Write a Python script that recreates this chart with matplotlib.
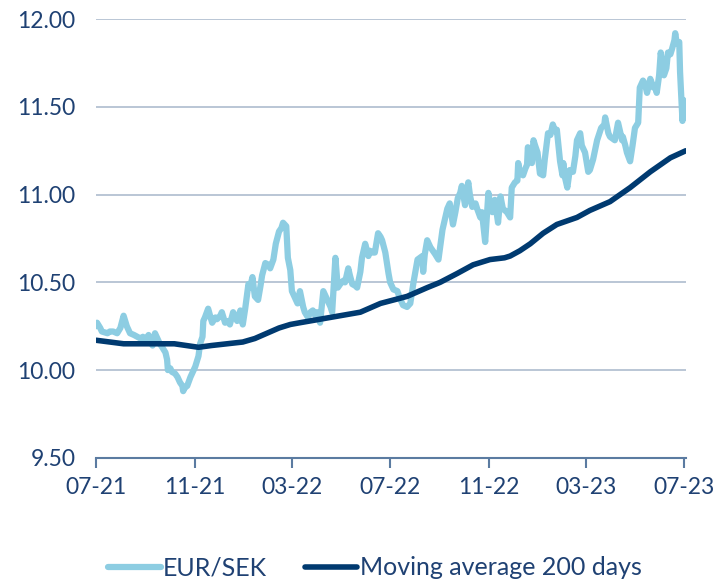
import matplotlib
matplotlib.use("Agg")
import matplotlib.pyplot as plt
import matplotlib.dates as mdates
import pandas as pd

# EUR/SEK
fx_dates = [
    "2021-07-01", "2021-07-02", "2021-07-06", "2021-07-08", "2021-07-15", "2021-07-18",
    "2021-07-22", "2021-07-27", "2021-07-31", "2021-08-04", "2021-08-06", "2021-08-08",
    "2021-08-12", "2021-08-17", "2021-08-21", "2021-08-25", "2021-08-28", "2021-08-31",
    "2021-09-04", "2021-09-06", "2021-09-09", "2021-09-12", "2021-09-16", "2021-09-18",
    "2021-09-21", "2021-09-25", "2021-09-27", "2021-09-28", "2021-10-01", "2021-10-03",
    "2021-10-07", "2021-10-10", "2021-10-13", "2021-10-16", "2021-10-17", "2021-10-19",
    "2021-10-22", "2021-10-26", "2021-10-29", "2021-11-01", "2021-11-05", "2021-11-07",
    "2021-11-10", "2021-11-11", "2021-11-13", "2021-11-17", "2021-11-20", "2021-11-22",
    "2021-11-26", "2021-11-28", "2021-12-02", "2021-12-04", "2021-12-08", "2021-12-12",
    "2021-12-14", "2021-12-18", "2021-12-21", "2021-12-23", "2021-12-27", "2021-12-30",
    "2022-01-02", "2022-01-06", "2022-01-08", "2022-01-11", "2022-01-14", "2022-01-18",
    "2022-01-21", "2022-01-23", "2022-01-27", "2022-01-31", "2022-02-02", "2022-02-06",
    "2022-02-09", "2022-02-13", "2022-02-16", "2022-02-18", "2022-02-22", "2022-02-24",
    "2022-02-27", "2022-03-01", "2022-03-04", "2022-03-08", "2022-03-11", "2022-03-15",
    "2022-03-17", "2022-03-21", "2022-03-24", "2022-03-27", "2022-03-30", "2022-04-01",
    "2022-04-05", "2022-04-09", "2022-04-11", "2022-04-14", "2022-04-18", "2022-04-20",
    "2022-04-24", "2022-04-27", "2022-04-30", "2022-05-04", "2022-05-06", "2022-05-10",
    "2022-05-12", "2022-05-15", "2022-05-19", "2022-05-21", "2022-05-25", "2022-05-27",
    "2022-05-31", "2022-06-04", "2022-06-06", "2022-06-09", "2022-06-12", "2022-06-16",
    "2022-06-19", "2022-06-21", "2022-06-25", "2022-06-29", "2022-07-01", "2022-07-05",
    "2022-07-10", "2022-07-13", "2022-07-17", "2022-07-22", "2022-07-26", "2022-07-30",
    "2022-08-04", "2022-08-07", "2022-08-10", "2022-08-11", "2022-08-13", "2022-08-16",
    "2022-08-20", "2022-08-23", "2022-08-26", "2022-08-30", "2022-09-04", "2022-09-07",
    "2022-09-10", "2022-09-13", "2022-09-17", "2022-09-20", "2022-09-23", "2022-09-26",
    "2022-09-28", "2022-10-02", "2022-10-06", "2022-10-08", "2022-10-11", "2022-10-15",
    "2022-10-17", "2022-10-21", "2022-10-23", "2022-10-27", "2022-10-31", "2022-11-02",
    "2022-11-05", "2022-11-08", "2022-11-12", "2022-11-15", "2022-11-18", "2022-11-23",
    "2022-11-27", "2022-11-29", "2022-12-03", "2022-12-06", "2022-12-07", "2022-12-09",
    "2022-12-13", "2022-12-16", "2022-12-18", "2022-12-19", "2022-12-22", "2022-12-24",
    "2022-12-26", "2022-12-28", "2022-12-31", "2023-01-03", "2023-01-07", "2023-01-09",
    "2023-01-13", "2023-01-16", "2023-01-19", "2023-01-22", "2023-01-24", "2023-01-28",
    "2023-01-31", "2023-02-01", "2023-02-03", "2023-02-06", "2023-02-09", "2023-02-13",
    "2023-02-16", "2023-02-18", "2023-02-22", "2023-02-24", "2023-02-28", "2023-03-04",
    "2023-03-06", "2023-03-10", "2023-03-15", "2023-03-20", "2023-03-24", "2023-03-25",
    "2023-03-29", "2023-03-31", "2023-04-03", "2023-04-06", "2023-04-10", "2023-04-13",
    "2023-04-15", "2023-04-16", "2023-04-19", "2023-04-21", "2023-04-25", "2023-04-28",
    "2023-05-01", "2023-05-05", "2023-05-07", "2023-05-11", "2023-05-14", "2023-05-16",
    "2023-05-20", "2023-05-24", "2023-05-26", "2023-05-28", "2023-05-31", "2023-06-02",
    "2023-06-06", "2023-06-09", "2023-06-11", "2023-06-14", "2023-06-16", "2023-06-19",
    "2023-06-20", "2023-06-22", "2023-06-25", "2023-06-26", "2023-06-29", "2023-06-30",
    "2023-07-02", "2023-07-03",
]
eur_sek = [
    10.25, 10.27, 10.24, 10.22, 10.21, 10.22, 10.22, 10.21, 10.24, 10.31, 10.28, 10.25,
    10.21, 10.20, 10.19, 10.18, 10.19, 10.17, 10.20, 10.16, 10.14, 10.21, 10.17, 10.15,
    10.13, 10.10, 10.06, 10.00, 10.01, 9.99, 9.98, 9.96, 9.93, 9.91, 9.88, 9.90,
    9.91, 9.96, 9.99, 10.02, 10.08, 10.15, 10.19, 10.28, 10.30, 10.35, 10.30, 10.27,
    10.30, 10.29, 10.31, 10.33, 10.27, 10.28, 10.26, 10.33, 10.30, 10.28, 10.34, 10.26,
    10.35, 10.49, 10.47, 10.53, 10.42, 10.40, 10.48, 10.54, 10.61, 10.60, 10.58, 10.63,
    10.72, 10.79, 10.81, 10.84, 10.82, 10.64, 10.57, 10.45, 10.42, 10.38, 10.45, 10.36,
    10.33, 10.30, 10.33, 10.34, 10.31, 10.33, 10.27, 10.45, 10.43, 10.40, 10.36, 10.33,
    10.64, 10.47, 10.49, 10.51, 10.50, 10.58, 10.54, 10.49, 10.48, 10.47, 10.56, 10.64,
    10.72, 10.65, 10.68, 10.67, 10.67, 10.78, 10.76, 10.74, 10.67, 10.55, 10.50, 10.46,
    10.45, 10.41, 10.37, 10.36, 10.38, 10.50, 10.63, 10.64, 10.65, 10.56, 10.66, 10.74,
    10.70, 10.68, 10.66, 10.63, 10.80, 10.86, 10.92, 10.95, 10.83, 10.90, 10.98, 11.01,
    11.05, 10.94, 11.07, 11.00, 10.93, 10.95, 10.92, 10.87, 10.90, 10.73, 11.01, 10.95,
    10.90, 10.97, 10.84, 10.99, 10.92, 10.90, 10.87, 11.04, 11.07, 11.08, 11.18, 11.13,
    11.11, 11.15, 11.17, 11.27, 11.22, 11.18, 11.31, 11.28, 11.24, 11.12, 11.11, 11.20,
    11.35, 11.34, 11.40, 11.36, 11.37, 11.19, 11.11, 11.18, 11.10, 11.04, 11.14, 11.13,
    11.22, 11.31, 11.35, 11.28, 11.24, 11.13, 11.14, 11.20, 11.31, 11.38, 11.40, 11.44,
    11.35, 11.33, 11.32, 11.31, 11.41, 11.35, 11.31, 11.33, 11.28, 11.24, 11.19, 11.28,
    11.38, 11.41, 11.61, 11.65, 11.62, 11.58, 11.66, 11.61, 11.62, 11.58, 11.68, 11.81,
    11.68, 11.72, 11.81, 11.80, 11.83, 11.88, 11.92, 11.86, 11.87, 11.70, 11.42, 11.54,
    11.50, 11.48,
]

# 200 day moving average
ma_dates = [
    "2021-07-01", "2021-08-04", "2021-09-16", "2021-10-06", "2021-10-21", "2021-11-05",
    "2021-11-21", "2021-12-30", "2022-01-14", "2022-01-29", "2022-02-13", "2022-02-27",
    "2022-03-11", "2022-04-05", "2022-04-30", "2022-05-25", "2022-06-19", "2022-07-22",
    "2022-08-16", "2022-09-01", "2022-09-22", "2022-10-12", "2022-11-02", "2022-11-20",
    "2022-11-27", "2022-12-09", "2022-12-22", "2023-01-07", "2023-01-24", "2023-02-18",
    "2023-03-06", "2023-03-31", "2023-04-25", "2023-05-20", "2023-06-14", "2023-07-03",
]
ma_200 = [
    10.17, 10.15, 10.15, 10.15, 10.14, 10.13, 10.14, 10.16, 10.18, 10.21, 10.24, 10.26,
    10.27, 10.29, 10.31, 10.33, 10.38, 10.42, 10.47, 10.50, 10.55, 10.60, 10.63, 10.64,
    10.65, 10.68, 10.72, 10.78, 10.83, 10.87, 10.91, 10.96, 11.04, 11.13, 11.21, 11.25,
]

y_ticks = [9.50, 10.00, 10.50, 11.00, 11.50, 12.00]
x_ticks = ["2021-07-01", "2021-11-01", "2022-03-01", "2022-07-01", "2022-11-01",
           "2023-03-01", "2023-07-01"]

light = "#8dcde2"
navy = "#003a70"
text_col = "#1f4173"
grid_col = "#b4c2d2"

plt.rcParams["font.family"] = ["Lato", "DejaVu Sans"]

fig = plt.figure(figsize=(7.18, 5.81), dpi=100)
ax = fig.add_axes([0.134, 0.212, 0.821, 0.755])

ax.plot(pd.to_datetime(fx_dates), eur_sek, color=light, lw=4.5,
        solid_joinstyle="round", solid_capstyle="round", label="EUR/SEK", zorder=3)
ax.plot(pd.to_datetime(ma_dates), ma_200, color=navy, lw=4.0,
        solid_joinstyle="round", solid_capstyle="round",
        label="Moving average 200 days", zorder=4)

ax.set_ylim(9.5, 12.0)
ax.set_xlim(pd.Timestamp("2021-07-01"), pd.Timestamp("2023-07-03"))
ax.set_yticks(y_ticks)
ax.set_yticklabels([f"{v:.2f}" for v in y_ticks])
ax.set_xticks(pd.to_datetime(x_ticks))
ax.xaxis.set_major_formatter(mdates.DateFormatter("%m-%y"))

ax.grid(axis="y", color=grid_col, lw=1.3)
ax.set_axisbelow(True)
for s in ["top", "right", "left"]:
    ax.spines[s].set_visible(False)
ax.spines["bottom"].set_color("#5b7ba1")
ax.spines["bottom"].set_linewidth(1.5)
ax.spines["bottom"].set_zorder(5)

ax.tick_params(axis="y", length=0, pad=15, labelsize=16.5, labelcolor=text_col)
ax.tick_params(axis="x", length=7, width=1.5, color="#5b7ba1", pad=7,
               labelsize=16.5, labelcolor=text_col)

leg = fig.legend(loc="lower center", bbox_to_anchor=(0.522, -0.036), ncol=2, frameon=False,
                 fontsize=18, handlelength=2.1, handletextpad=0.1, columnspacing=1.5)
for t in leg.get_texts():
    t.set_color(text_col)

fig.savefig("out.png", dpi=100)
